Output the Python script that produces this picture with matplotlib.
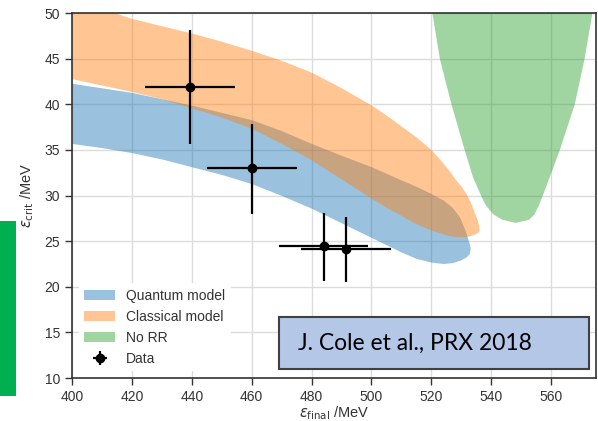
import matplotlib
matplotlib.use("Agg")
import matplotlib.pyplot as plt
from matplotlib.patches import Rectangle

# Quantum model band
quant_x = [400, 410, 420, 430, 440, 450, 460, 470, 480, 490, 500, 510, 515, 520, 524, 527, 529.5, 531.5, 532.6, 533]
quant_hi = [42.3, 41.8, 41.3, 40.6, 39.9, 39.1, 38.3, 37.1, 35.7, 34.4, 33.15, 31.7, 31.0, 30.2, 29.5, 28.7, 27.6, 26.0, 24.8, 24.2]
quant_lo = [35.7, 35.25, 34.7, 34.0, 33.15, 32.3, 31.3, 30.0, 28.6, 27.0, 25.4, 23.8, 23.1, 22.7, 22.55, 22.65, 22.9, 23.25, 23.6, 24.2]

# Classical model band
class_x = [400, 410, 420, 430, 440, 450, 460, 470, 480, 490, 500, 505, 510, 515, 520, 523, 526, 528.2, 530, 531.6, 533, 534.5, 535.4, 535.8, 535.9]
class_hi = [51.5, 50.5, 49.4, 48.6, 47.8, 46.9, 45.9, 44.8, 43.5, 41.8, 39.9, 38.8, 37.6, 36.4, 35.0, 33.9, 32.7, 31.7, 31.0, 30.2, 29.3, 28.0, 27.3, 26.6, 26.2]
class_lo = [42.8, 42.1, 41.4, 40.6, 39.6, 38.6, 37.35, 35.7, 33.9, 31.8, 29.7, 28.7, 27.8, 26.9, 26.2, 25.9, 25.6, 25.5, 25.5, 25.5, 25.6, 25.8, 25.95, 26.1, 26.2]

# No radiation reaction region
norr_y = [51, 50, 45, 40, 35, 32, 30, 29, 28, 27.4, 27.05]
norr_left = [519.8, 520.2, 522.7, 526.6, 531, 533.8, 536.5, 538, 540.5, 543.5, 548]
norr_right = [574, 573.6, 571, 567.7, 562.7, 559.3, 557, 555.8, 554.3, 552.5, 548]

# measured points
data_x = [439.5, 460, 484, 491.6]
data_y = [41.9, 33.0, 24.45, 24.1]
data_xerr = [15, 15, 15, 15]
data_yerr_lo = [6.3, 5.0, 3.8, 3.6]
data_yerr_hi = [6.2, 4.8, 3.6, 3.6]

plt.rcParams['font.family'] = ['Liberation Sans', 'DejaVu Sans']
plt.rcParams['mathtext.fontset'] = 'dejavusans'

fig = plt.figure(figsize=(5.98, 4.21), dpi=100)
ax = fig.add_axes([0.1204, 0.1021, 0.8763, 0.867])

blue, orange, green = '#1f77b4', '#ff7f0e', '#2ca02c'
ax.fill_between(quant_x, quant_lo, quant_hi, color=blue, alpha=0.45, lw=0, zorder=2,
                label='Quantum model')
ax.fill_between(class_x, class_lo, class_hi, color=orange, alpha=0.45, lw=0, zorder=2,
                label='Classical model')
ax.fill_betweenx(norr_y, norr_left, norr_right, color=green, alpha=0.45, lw=0, zorder=2,
                 label='No RR')
ax.errorbar(data_x, data_y, xerr=data_xerr, yerr=[data_yerr_lo, data_yerr_hi],
            fmt='o', color='black', ms=6, elinewidth=1.6, capsize=0, zorder=4, label='Data')

ax.set_xlim(400, 575)
ax.set_ylim(10, 50)
ax.set_xticks(range(400, 561, 20))
ax.set_yticks(range(10, 51, 5))
ax.grid(True, color='#dcdcdc', lw=1.0, zorder=0)
ax.set_axisbelow(True)
for s in ax.spines.values():
    s.set_color('#333333')
    s.set_linewidth(1.2)
ax.tick_params(axis='both', direction='out', length=5, width=1, color='#333333',
               labelsize=10, labelcolor='#333333')
ax.set_xlabel(r'$\varepsilon_{\rm final}$ /MeV', fontsize=10.5, color='#333333', labelpad=0)
ax.set_ylabel(r'$\varepsilon_{\rm crit}$ /MeV', fontsize=10.5, color='#333333', labelpad=6)

leg = ax.legend(loc='lower left', fontsize=10, handlelength=2.2, frameon=True,
                facecolor='white', edgecolor='none', framealpha=1)
for t in leg.get_texts():
    t.set_color('#333333')
leg.set_zorder(5)

# slide annotations
fig.patches.append(Rectangle((279 / 598, 1 - 369 / 421), 310 / 598, 52 / 421,
                             transform=fig.transFigure, facecolor='#B4C7E7',
                             edgecolor='#404040', lw=1.5, zorder=10))
fig.text(298 / 598, 1 - 343 / 421, 'J. Cole et al., PRX 2018', fontsize=16.5,
         family=['Lato', 'DejaVu Sans'], va='center', ha='left', color='black', zorder=11)
fig.patches.append(Rectangle((0, 1 - 396 / 421), 16 / 598, 175 / 421,
                             transform=fig.transFigure, facecolor='#00B050',
                             edgecolor='none', zorder=10))

fig.savefig('out.png', dpi=100)
